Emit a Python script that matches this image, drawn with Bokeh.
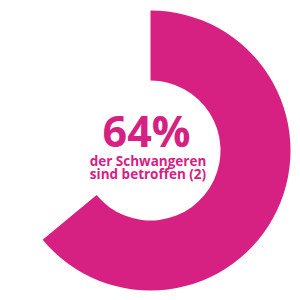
from bokeh.plotting import figure
from bokeh.embed import file_html
from bokeh.resources import INLINE
from bokeh.core.properties import value
import math

share = 0.64
headline = "64%"
sub_lines = ["der Schwangeren", "sind betroffen (2)"]
color = "#D62183"

p = figure(width=300, height=300, x_range=(-150, 150), y_range=(-150, 150),
           output_backend="svg", toolbar_location=None, min_border=0,
           outline_line_color=None)
p.axis.visible = False
p.grid.visible = False
p.background_fill_color = "white"
p.border_fill_color = "white"

start = math.pi / 2
end = start - share * 2 * math.pi
p.annular_wedge(x=[0], y=[0], inner_radius=70, outer_radius=140,
                start_angle=[start], end_angle=[end], direction="clock",
                fill_color=color, line_color=None)

p.text(x=[-4], y=[20], text=[headline], text_font=value("Open Sans"),
       text_font_style="bold", text_font_size="43px", text_color=color,
       text_align="center", text_baseline="middle")
p.text(x=[-2.5, -2.5], y=[-10, -23.5], text=sub_lines, text_font=value("Open Sans"),
       text_font_style="bold", text_font_size="13.5px", text_color=color,
       text_align="center", text_baseline="middle")

open("out.html", "w").write(file_html(p, INLINE))
